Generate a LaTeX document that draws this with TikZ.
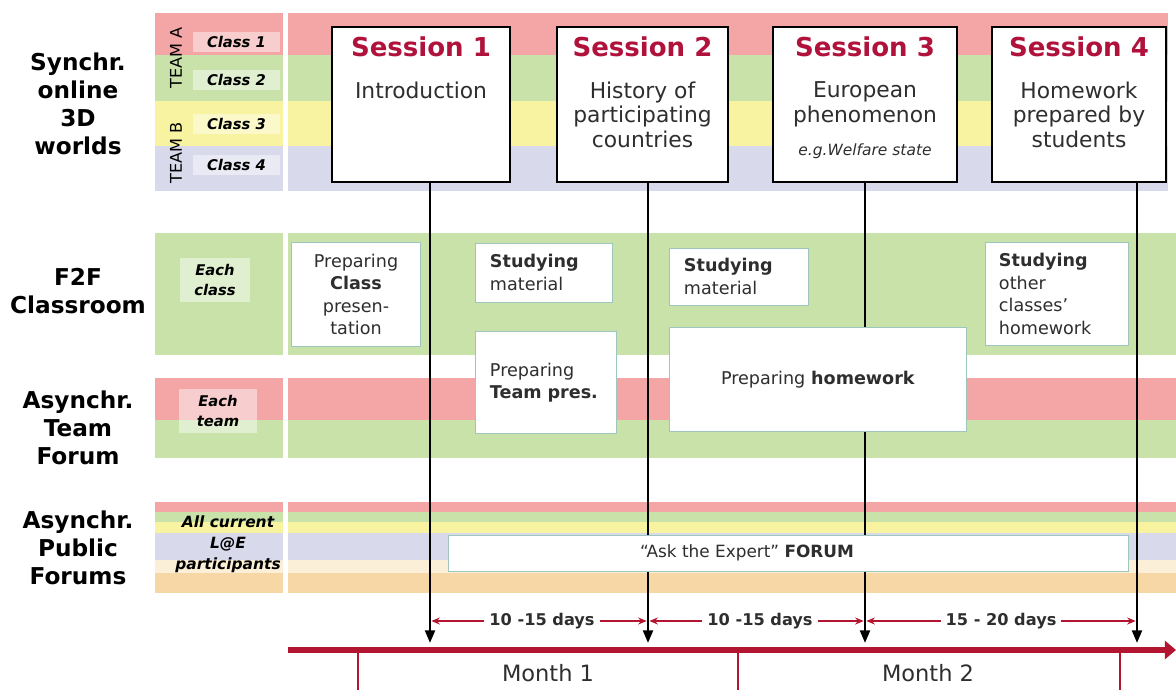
\documentclass[tikz,border=0pt]{standalone}
\usepackage{fontspec}
\setmainfont{DejaVu Sans}
\usetikzlibrary{positioning,arrows.meta}

\definecolor{bandred}{HTML}{F4A5A5}
\definecolor{bandgreen}{HTML}{C8E2A9}
\definecolor{bandyellow}{HTML}{F8F3A0}
\definecolor{bandlilac}{HTML}{D9D9EC}
\definecolor{bandcream}{HTML}{FBEFD8}
\definecolor{bandorange}{HTML}{F8D7A7}
\definecolor{sessred}{HTML}{B0123C}
\definecolor{axisred}{HTML}{B3142F}
\definecolor{boxline}{HTML}{9CC6BE}
\definecolor{txtgray}{HTML}{2E2E2E}

\begin{document}
\begin{tikzpicture}[x=0.025cm, y=-0.025cm,
    rowlabel/.style={font=\bfseries\fontsize{16.5}{20}\selectfont, align=center},
    tag/.style={font=\bfseries\itshape\fontsize{10.5}{14}\selectfont, align=center, inner sep=0pt},
    lighttag/.style={tag, fill=white, fill opacity=0.45, text opacity=1},
    teamtag/.style={font=\fontsize{11.5}{13}\selectfont, rotate=90, inner sep=0pt},
    sessbox/.style={draw=black, line width=2pt, fill=white, minimum height=3.875cm},
    sesshead/.style={text=sessred, font=\bfseries\fontsize{18.5}{22}\selectfont, inner sep=0pt},
    sesstext/.style={text=txtgray, font=\fontsize{15.5}{17.5}\selectfont, align=center, inner sep=0pt},
    actbox/.style={draw=boxline, line width=0.7pt, fill=white, text=txtgray, inner xsep=0.35cm,
                   font=\fontsize{12.5}{16}\selectfont},
    sessline/.style={line width=1.8pt, -{Triangle[length=9pt,width=7pt]}},
    days/.style={font=\bfseries\fontsize{11.5}{14}\selectfont, text=txtgray},
    dayarrow/.style={draw=axisred, line width=0.9pt, shorten >=1pt, -{Stealth[length=6pt,width=5pt]}},
    month/.style={font=\fontsize{16}{19}\selectfont, text=txtgray}]
    \useasboundingbox (0,0) rectangle (1176,690);

    % Colour bands
    \foreach \ya/\yb/\col in {13/55/bandred, 55/101/bandgreen, 101/146/bandyellow, 146/191/bandlilac}{
        \fill[\col] (155,\ya) rectangle (283,\yb);
        \fill[\col] (288,\ya) rectangle (1168,\yb);
    }
    \fill[bandgreen] (155,233) rectangle (283,355);
    \fill[bandgreen] (288,233) rectangle (1176,355);
    \foreach \ya/\yb/\col in {378/420/bandred, 420/458/bandgreen}{
        \fill[\col] (155,\ya) rectangle (283,\yb);
        \fill[\col] (288,\ya) rectangle (1176,\yb);
    }
    \foreach \ya/\yb/\col in {502/512/bandred, 512/522/bandgreen, 522/533/bandyellow,
                              533/560/bandlilac, 560/573/bandcream, 573/593/bandorange}{
        \fill[\col] (155,\ya) rectangle (283,\yb);
        \fill[\col] (288,\ya) rectangle (1176,\yb);
    }

    % Row labels
    \node[rowlabel] (sync) at (78,104) {Synchr.\\online\\3D\\worlds};
    \node[rowlabel] (f2f) at (78,291) {F2F\\Classroom};
    \node[rowlabel] (team) at (78,428) {Asynchr.\\Team\\Forum};
    \node[rowlabel] (pub) at (78,548) {Asynchr.\\Public\\Forums};

    \node[teamtag] (teama) at (176,58) {TEAM A};
    \node[teamtag] (teamb) at (176,153) {TEAM B};
    \foreach \y/\n in {42/1, 80/2, 124/3, 165/4}
        \node[lighttag, minimum width=2.175cm, minimum height=0.5cm] (c\n) at (236.5,\y) {Class \n};
    \node[lighttag, minimum width=1.75cm, minimum height=1.1cm] (eachc) at (215,280) {Each\\class};
    \node[lighttag, minimum width=1.925cm, minimum height=1.075cm] (eacht) at (218,411) {Each\\team};
    \node[tag, font=\bfseries\itshape\fontsize{11}{15}\selectfont] (allp) at (228,544) {All current\\L@E\\participants};

    % Sessions
    \node[sessbox, minimum width=4.45cm] (s1) at (421,104.5) {};
    \node[sesshead, below=8pt of s1.north] (s1h) {Session 1};
    \node[sesstext, below=17pt of s1h] (s1t) {Introduction};

    \node[sessbox, minimum width=4.275cm] (s2) at (642.5,104.5) {};
    \node[sesshead, below=8pt of s2.north] (s2h) {Session 2};
    \node[sesstext, below=17pt of s2h] (s2t) {History of\\participating\\countries};

    \node[sessbox, minimum width=4.6cm] (s3) at (865,104.5) {};
    \node[sesshead, below=8pt of s3.north] (s3h) {Session 3};
    \node[sesstext, below=17pt of s3h] (s3t) {European\\phenomenon\\[6pt]{\itshape\fontsize{11}{13}\selectfont e.g.Welfare state}};

    \node[sessbox, minimum width=4.35cm] (s4) at (1079,104.5) {};
    \node[sesshead, below=8pt of s4.north] (s4h) {Session 4};
    \node[sesstext, below=17pt of s4h] (s4t) {Homework\\prepared by\\students};

    % Session lines down to the time axis
    \coordinate (t1) at (430,643);
    \coordinate (t2) at (648,643);
    \coordinate (t3) at (865,643);
    \coordinate (t4) at (1137,643);
    \draw[sessline] (s1.south -| t1) -- (t1);
    \draw[sessline] (s2.south -| t2) -- (t2);
    \draw[sessline] (s3.south -| t3) -- (t3);
    \draw[sessline] (s4.south -| t4) -- (t4);

    % Activities
    \node[actbox, text width=2.5cm, align=center, minimum height=2.575cm] (prepc) at (356,294.5)
        {Preparing\\\textbf{Class}\\presen-\\tation};
    \node[actbox, text width=2.7cm, align=left, minimum height=1.475cm] (stud1) at (544,272.5)
        {\textbf{Studying}\\material};
    \node[actbox, text width=2.8cm, align=left, minimum height=2.525cm] (prept) at (546,382.5)
        {Preparing\\\textbf{Team pres.}};
    \node[actbox, text width=2.75cm, align=left, minimum height=1.425cm] (stud2) at (739,276.5)
        {\textbf{Studying}\\material};
    \node[actbox, text width=6.7cm, align=center, minimum height=2.575cm] (preph) at (818,379.5)
        {Preparing \textbf{homework}};
    \node[actbox, text width=2.875cm, align=left, minimum height=2.55cm] (stud3) at (1056.5,294)
        {\textbf{Studying}\\other\\classes’\\homework};
    \node[actbox, minimum width=16.975cm, minimum height=0.9cm] (ask) at (788.5,553) {};
    \node[text=txtgray, font=\fontsize{12}{14}\selectfont] (askt) at (747,553) {“Ask the Expert” \textbf{FORUM}};

    % Time axis
    \coordinate (ax0) at (288,650);
    \coordinate (ax1) at (1176,650);
    \draw[axisred, line width=4.2pt, -{Triangle[length=8pt,width=13pt]}] (ax0) -- (ax1);
    \foreach \x in {358,738,1120}
        \draw[axisred, line width=0.8pt] (\x,650) -- (\x,690);
    \node[month] (mon1) at (548,673) {Month 1};
    \node[month] (mon2) at (928,673) {Month 2};

    \node[days] (d1) at (542,621) {10 -15 days};
    \node[days] (d2) at (760,621) {10 -15 days};
    \node[days] (d3) at (1001,621) {15 - 20 days};
    \draw[dayarrow] (d1.west) -- (d1.west -| t1);
    \draw[dayarrow] (d1.east) -- (d1.east -| t2);
    \draw[dayarrow] (d2.west) -- (d2.west -| t2);
    \draw[dayarrow] (d2.east) -- (d2.east -| t3);
    \draw[dayarrow] (d3.west) -- (d3.west -| t3);
    \draw[dayarrow] (d3.east) -- (d3.east -| t4);
\end{tikzpicture}
\end{document}
